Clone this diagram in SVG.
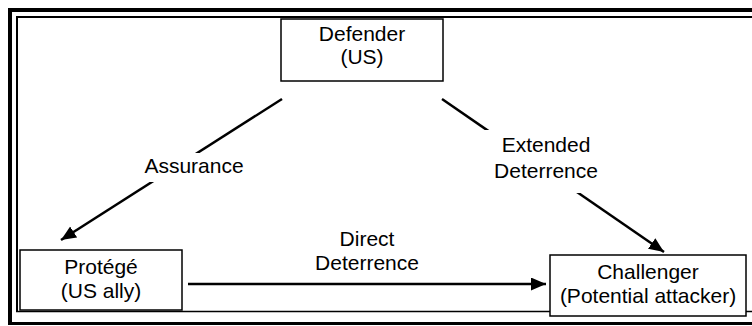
<svg xmlns="http://www.w3.org/2000/svg" width="752" height="326" viewBox="0 0 752 326">
<style>
.t{font-family:"Liberation Sans",Arial,sans-serif;font-size:21px;fill:#000;text-anchor:middle}
.box{fill:#fff;stroke:#000;stroke-width:1.5}
.edge{stroke:#000;stroke-width:2.5;fill:none}
.bg{fill:#fff;stroke:none}
</style>
<defs>
<marker id="ah" markerUnits="userSpaceOnUse" markerWidth="16" markerHeight="14" refX="15" refY="6.5" orient="auto">
<path d="M0,0 L15,6.5 L0,13 z" fill="#000"/>
</marker>
</defs>
<rect width="752" height="326" fill="#fff"/>
<g id="frame" fill="none" stroke="#000">
<path d="M10,325 V10 H752" stroke-width="4"/>
<path d="M8,323.5 H752" stroke-width="3"/>
<path d="M17,312 V17 H752" stroke-width="2"/>
<path d="M16,311.5 H752" stroke-width="1.5"/>
</g>
<g id="connectors">
<line class="edge" x1="282" y1="99" x2="61" y2="240" marker-end="url(#ah)"/>
<line class="edge" x1="442" y1="99" x2="664" y2="252" marker-end="url(#ah)"/>
<line class="edge" x1="188" y1="284" x2="546" y2="284" marker-end="url(#ah)"/>
<rect class="bg" x="140" y="153" width="110" height="29"/>
<rect class="bg" x="484" y="130" width="122" height="63"/>
<text class="t" x="194" y="173">Assurance</text>
<text class="t" x="546" y="152">Extended</text>
<text class="t" x="546" y="178">Deterrence</text>
<text class="t" x="367" y="246">Direct</text>
<text class="t" x="367" y="270">Deterrence</text>
</g>
<g id="defender">
<rect class="box" x="281" y="19" width="162" height="62"/>
<text class="t" x="362" y="41">Defender</text>
<text class="t" x="362" y="64">(US)</text>
</g>
<g id="protege">
<rect class="box" x="20" y="250" width="162" height="60"/>
<text class="t" x="101" y="274">Protégé</text>
<text class="t" x="101" y="298">(US ally)</text>
</g>
<g id="challenger">
<rect class="box" x="550" y="255" width="196" height="61"/>
<text class="t" x="648" y="279">Challenger</text>
<text class="t" x="648" y="303">(Potential attacker)</text>
</g>
</svg>
